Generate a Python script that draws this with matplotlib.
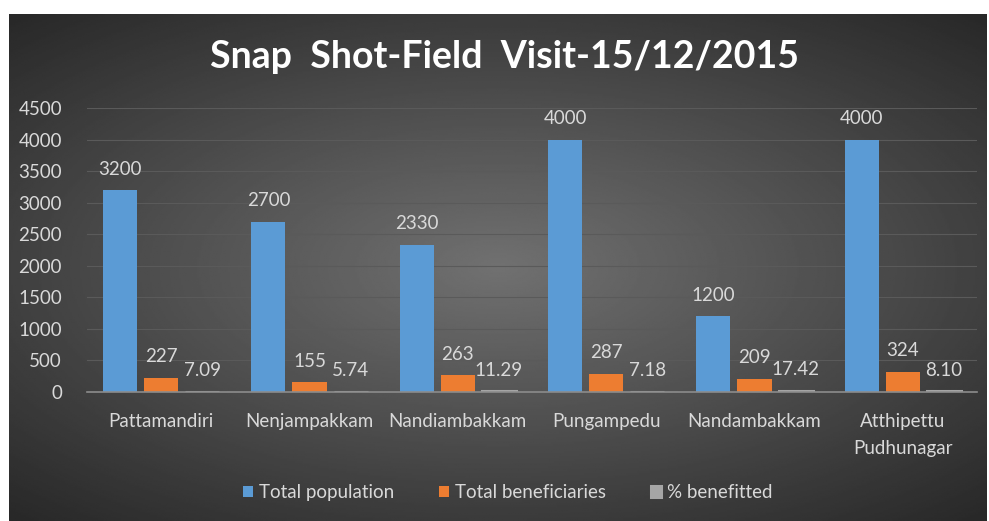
import numpy as np
import matplotlib
matplotlib.use("Agg")
from matplotlib import pyplot as plt

# data
villages = ["Pattamandiri", "Nenjampakkam", "Nandiambakkam", "Pungampedu",
            "Nandambakkam", "Atthipettu\nPudhunagar"]
totalPopulation = [3200, 2700, 2330, 4000, 1200, 4000]
totalBeneficiaries = [227, 155, 263, 287, 209, 324]
pctBenefitted = [7.09, 5.74, 11.29, 7.18, 17.42, 8.10]
seriesNames = ["Total population", "Total beneficiaries", "% benefitted"]
yTicks = [0, 500, 1000, 1500, 2000, 2500, 3000, 3500, 4000, 4500]

textColor = "#d9d9d9"
colors = ["#5b9bd5", "#ed7d31", "#a5a5a5"]

plt.rcParams["font.family"] = ["Lato", "DejaVu Sans"]

fig = plt.figure(figsize=(9.89, 5.21), dpi=100)
fig.patch.set_facecolor("white")

# dark radial gradient background
bg = fig.add_axes([9 / 989, 0, 978 / 989, 507 / 521])
yy, xx = np.mgrid[-1:1:300j, -1:1:600j]
r = np.sqrt((xx * 1.0) ** 2 + (yy * 1.1) ** 2)
bg.imshow(-r, cmap="gray", vmin=-2.3, vmax=2.9, aspect="auto",
          extent=[0, 1, 0, 1])
bg.set_axis_off()

ax = fig.add_axes([87 / 989, 1 - 392 / 521, 890 / 989, (392 - 108) / 521])
ax.patch.set_alpha(0)

x = np.arange(len(villages))
width = 0.23
offset = 0.277
allSeries = [totalPopulation, totalBeneficiaries, pctBenefitted]
fmts = ["{:.0f}", "{:.0f}", "{:.2f}"]

for i, (vals, name, col, fmt) in enumerate(zip(allSeries, seriesNames, colors, fmts)):
    pos = x + (i - 1) * offset
    bars = ax.bar(pos, vals, width, color=col, label=name, zorder=3,
                  edgecolor=col, linewidth=2.2 if i == 2 else 0)
    for b, v in zip(bars, vals):
        ax.annotate(fmt.format(v), (b.get_x() + b.get_width() / 2, b.get_height()),
                    xytext=(0, 9), textcoords="offset points", ha="center",
                    va="bottom", color=textColor, fontsize=13.5)

ax.set_xlim(-0.5, len(villages) - 0.5)
ax.set_ylim(0, 4500)
ax.set_yticks(yTicks)
ax.set_xticks(x)
ax.set_xticklabels(villages, linespacing=1.75)
ax.tick_params(axis="both", length=0, colors=textColor, labelsize=13.5)
ax.tick_params(axis="y", pad=18)
ax.tick_params(axis="x", pad=15)
ax.grid(axis="y", color="#5a5a5a", linewidth=0.8, zorder=0)
for s in ["top", "right", "left"]:
    ax.spines[s].set_visible(False)
ax.spines["bottom"].set_color("#8c8c8c")
ax.spines["bottom"].set_linewidth(1.2)
ax.spines["bottom"].set_zorder(4)

fig.text(0.51, 0.89, "Snap  Shot-Field  Visit-15/12/2015", ha="center", va="center",
         color="white", fontsize=27, fontweight="bold")

leg = fig.legend(loc="center", bbox_to_anchor=(0.513, 0.055), ncol=3, frameon=False,
                 fontsize=13.5, handlelength=0.55, handleheight=0.55,
                 handletextpad=0.3, columnspacing=2.4)
for t in leg.get_texts():
    t.set_color(textColor)

fig.savefig("out.png", dpi=100)
